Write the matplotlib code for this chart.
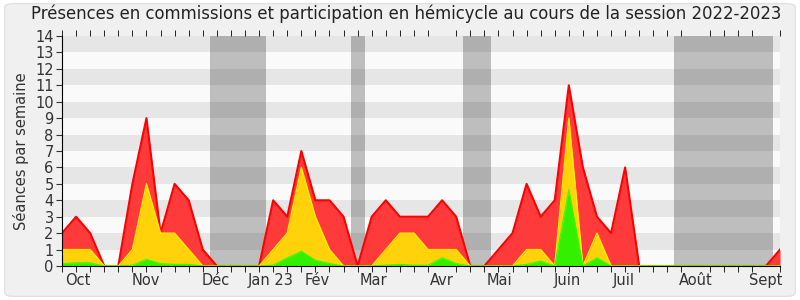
import matplotlib
matplotlib.use("Agg")
import matplotlib.pyplot as plt
from matplotlib.patches import FancyBboxPatch
import numpy as np

weeks = list(range(52))
# total weekly presences (red)
total = [2, 3, 2, 0, 0, 5, 9, 2, 5, 4, 1, 0, 0, 0, 0, 4, 3, 7, 4, 4,
         3, 0, 3, 4, 3, 3, 3, 4, 3, 0, 0, 1, 2, 5, 3, 4, 11, 6, 3, 2,
         6, 0, 0, 0, 0, 0, 0, 0, 0, 0, 0, 1]
# hemicycle presences (yellow)
hemicycle = [1, 1, 1, 0, 0, 1, 5, 2, 2, 1, 0, 0, 0, 0, 0, 1, 2, 6, 3, 1,
             0, 0, 0, 1, 2, 2, 1, 1, 1, 0, 0, 0, 0, 1, 1, 0, 9, 0, 2, 0,
             0, 0, 0, 0, 0, 0, 0, 0, 0, 0, 0, 0]
# interventions (green)
interventions = [0.15, 0.2, 0.2, 0, 0, 0.05, 0.4, 0.15, 0.1, 0.1, 0, 0, 0, 0, 0,
                 0.05, 0.5, 0.9, 0.35, 0.15, 0, 0, 0, 0.05, 0.1, 0.05, 0.05, 0.5,
                 0.15, 0, 0, 0, 0, 0.1, 0.3, 0, 4.65, 0, 0.5, 0, 0, 0, 0, 0, 0,
                 0, 0, 0, 0, 0, 0, 0]
# vacation weeks (start, end) in week units
vacations = [(10.5, 14.5), (20.5, 21.5), (28.5, 30.5), (43.5, 50.5)]
month_labels = ["Oct", "Nov", "Déc", "Jan 23", "Fév", "Mar", "Avr", "Mai",
                "Juin", "Juil", "Août", "Sept"]
month_pos = [1.1, 5.95, 10.9, 14.85, 18.1, 22.1, 27.0, 31.1, 35.9, 39.9, 45.0, 50.0]

plt.rcParams['font.family'] = ['DejaVu Sans']

fig = plt.figure(figsize=(8, 3), dpi=100)
fig.patch.set_facecolor("white")
bg = FancyBboxPatch((0.006, 0.012), 0.988, 0.976, boxstyle="round,pad=0,rounding_size=0.012",
                    transform=fig.transFigure, facecolor="#f0f0f0", edgecolor="#e2e2e2",
                    linewidth=1, zorder=-10)
fig.patches.append(bg)

ax = fig.add_axes([0.0775, 0.1133, 0.8975, 0.7667])
ax.set_facecolor("#fafafa")
ax.set_xlim(0, 51)
ax.set_ylim(0, 14)

for a, b in vacations:
    ax.axvspan(a, b, color="#bebebe", lw=0, zorder=1)
for k in range(1, 14, 2):
    ax.axhspan(k, k + 1, color="black", alpha=0.08, lw=0, zorder=2)

x = np.array(weeks)
ax.fill_between(x, 0, total, color="#ff3a3a", lw=0, zorder=3)
ax.plot(x, total, color="#ff0000", lw=1.5, zorder=4)
ax.fill_between(x, 0, hemicycle, color="#ffd20a", lw=0, zorder=5)
ax.plot(x, hemicycle, color="#ffee00", lw=1, zorder=6)
ax.fill_between(x, 0, interventions, color="#33f000", lw=0, zorder=7)
ax.plot(x, interventions, color="#33ff00", lw=0.8, zorder=8)

ax.set_yticks(range(0, 15))
ax.tick_params(axis="y", direction="out", length=4, labelsize=10.5, pad=2, colors="#333333")
ax.set_xticks(month_pos)
ax.set_xticklabels(month_labels)
ax.tick_params(axis="x", which="major", length=0, labelsize=10.5, pad=5, colors="#333333")
ax.set_xticks(weeks, minor=True)
ax.tick_params(axis="x", which="minor", direction="out", length=4, bottom=True, top=True,
               color="black")

for s in ["top", "right"]:
    ax.spines[s].set_visible(False)
ax.spines["left"].set_color("black")
ax.spines["bottom"].set_color("black")
ax.spines["left"].set_zorder(10)
ax.spines["bottom"].set_zorder(10)

ax.set_ylabel("Séances par semaine", fontsize=10.5, color="#333333", labelpad=4)
fig.text(0.508, 0.955, "Présences en commissions et participation en hémicycle au cours de la session 2022-2023",
         ha="center", va="center", fontsize=11.9, color="#222222")

fig.savefig("out.png", dpi=100, facecolor=fig.get_facecolor())
